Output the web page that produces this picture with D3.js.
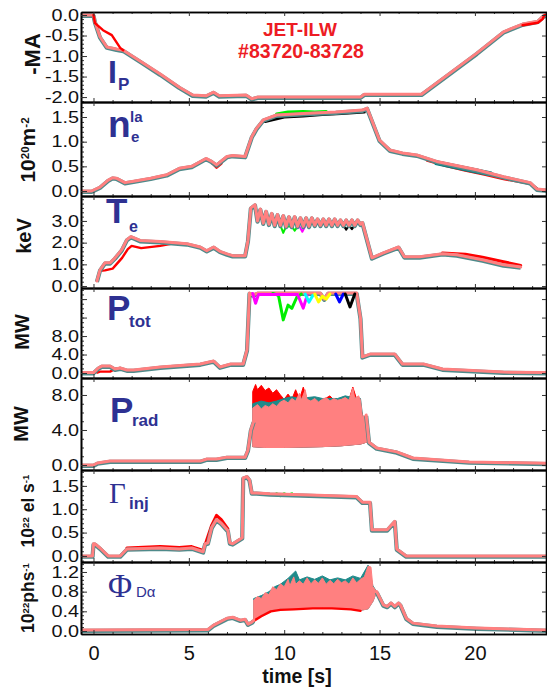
<!DOCTYPE html>
<html>
<head>
<meta charset="utf-8">
<script src="https://cdn.jsdelivr.net/npm/d3@7"></script>
<style>
body { margin: 0; background: #fff; }
svg { display: block; }
</style>
</head>
<body>
<script>
// ---- data : [time (s), value] ----
const ipMain = [[-0.66,0],[0,0],[0.08,-0.17],[0.34,-0.53],[0.7,-0.78],[1.2,-0.83],[1.56,-0.86],[2.5,-1.14],[3.5,-1.44],[4.5,-1.76],[5.2,-1.95],[5.9,-1.97],[6.3,-1.88],[6.6,-1.97],[8.0,-1.95],[8.3,-2.04],[8.6,-2.0],[14.0,-2.0],[14.2,-1.93],[17.2,-1.93],[20.1,-0.93],[21.5,-0.41],[22.5,-0.22],[23.3,-0.15],[23.6,-0.02],[23.8,0]];
const ipRed = [[0,0],[0.08,-0.2],[0.5,-0.37],[0.96,-0.49],[1.4,-0.8],[1.56,-0.86]];
const ipRedEnd = [[22.5,-0.25],[23.3,-0.19],[23.55,-0.1],[23.65,0],[23.8,0]];

const neMain = [[-0.66,0],[-0.1,0],[0.34,0.08],[0.77,0.22],[1.0,0.27],[1.2,0.26],[1.65,0.17],[2.1,0.2],[3.0,0.26],[3.84,0.33],[4.5,0.46],[5.15,0.5],[5.9,0.66],[6.2,0.6],[6.45,0.53],[7.0,0.7],[7.3,0.72],[7.95,0.7],[8.3,1.1],[8.55,1.27],[8.9,1.44],[9.6,1.54],[11.0,1.57],[12.7,1.6],[14.1,1.64],[14.35,1.68],[15.0,1.03],[15.55,0.83],[16.2,0.77],[16.95,0.73],[18.0,0.6],[20.1,0.43],[21.5,0.29],[22.9,0.17],[23.25,0.04],[23.8,0.02]];
const neRed = [[6.2,0.58],[6.45,0.48],[6.7,0.56]];
const neGreen = [[9.6,1.56],[10.2,1.6],[11.0,1.61],[11.6,1.6],[12.2,1.61]];
const neBlack = [[9.0,1.41],[10,1.5],[11,1.52],[12,1.55],[13,1.57],[14.2,1.6]];
const neTealTail = [[18.0,0.57],[19.0,0.49],[20.0,0.41],[20.8,0.35]];
const neRedTail = [[17.5,0.62],[18.5,0.51],[19.5,0.42],[20.5,0.34],[21.5,0.25],[22.9,0.15],[23.3,0.03]];

const teMain = [[0.18,0.23],[0.34,0.74],[0.6,1.07],[0.87,1.07],[1.13,1.3],[1.48,1.67],[1.75,2.14],[1.97,2.28],[2.44,2.1],[3.5,2.05],[4.9,1.95],[5.6,1.8],[5.94,1.63],[6.3,1.8],[6.63,1.6],[7.0,1.48],[7.3,1.4],[7.95,1.4],[8.1,2.1],[8.25,3.6],[8.47,3.75],[8.6,3.0],[8.75,3.55],[8.9,2.9],[9.05,3.45],[9.2,2.85],[9.35,3.35],[9.5,2.8],[9.65,3.3],[9.8,2.8],[9.95,3.25],[10.1,2.75],[10.25,3.2],[10.4,2.75],[10.55,3.2],[10.7,2.75],[10.85,3.15],[11.0,2.75],[11.15,3.15],[11.3,2.75],[11.45,3.15],[11.6,2.8],[11.75,3.1],[11.9,2.8],[12.05,3.1],[12.2,2.8],[12.35,3.1],[12.5,2.8],[12.65,3.1],[12.8,2.8],[12.95,3.05],[13.1,2.8],[13.25,3.05],[13.4,2.8],[13.55,3.05],[13.7,2.8],[13.85,3.05],[14.0,2.85],[14.1,2.93],[14.6,1.3],[15.2,1.53],[16.0,1.8],[16.3,1.35],[17.1,1.35],[18.3,1.49],[19.05,1.44],[20.4,1.21],[21.5,0.98],[22.4,0.88]];
const teRed = [[0.34,0.7],[0.6,0.72],[1.0,0.8],[1.2,1.0],[1.5,1.3],[1.8,1.7],[2.0,1.85],[2.5,1.75],[3.5,1.85],[4.2,1.97]];
const teRedEnd = [[18.3,1.52],[19.5,1.47],[20.4,1.33],[21.5,1.12],[22.4,0.95]];
const teGreen = [[9.8,2.8],[9.95,2.45],[10.1,2.75],[10.4,2.75],[10.55,2.55],[10.7,2.75]];
const teMagenta = [[10.8,2.75],[10.95,2.5],[11.1,2.75]];
const teBlack = [[13.1,2.8],[13.25,2.6],[13.4,2.8],[13.55,2.62],[13.7,2.8]];

const ptMain = [[-0.66,0.1],[0,0.1],[0.25,1.08],[0.43,1.5],[0.87,1.5],[1.13,0.86],[1.4,1.08],[1.75,0.65],[2.1,0.65],[3.5,1.3],[5.6,1.95],[6.3,2.6],[6.63,1.3],[7.2,1.95],[7.85,1.95],[8.05,5.0],[8.18,17.3],[8.37,16.9],[8.6,17.3],[11.9,17.3],[12.1,16.0],[12.3,17.3],[13.8,17.3],[14.0,11.9],[14.1,3.5],[14.5,4.1],[15.8,4.1],[16.2,1.95],[17.3,1.95],[18.3,0.86],[21.5,0.2],[23.8,0.1]];
const ptRed = [[0.2,0.1],[0.34,0.3],[0.87,0.3],[1.13,0.9],[1.4,1.08]];
const ptGreen = [[9.4,17.2],[9.7,16.8],[9.95,11.5],[10.2,14.7],[10.4,14.0],[10.66,16.4],[10.9,17.1]];
const ptMagenta = [[8.35,17.2],[8.5,15.1],[8.65,17.0],[10.7,17.0],[11.0,14.05],[11.2,16.8]];
const ptCyan = [[11.1,17.1],[11.3,15.35],[11.5,16.8]];
const ptYellow = [[11.6,17.1],[11.8,15.4],[12.0,16.6],[12.2,16.0],[12.4,17.1]];
const ptBlue = [[12.7,17.1],[12.9,15.4],[13.1,17.1]];
const ptBlack = [[13.2,17.1],[13.45,14.3],[13.7,17.1]];

const prMain = [[-0.66,0],[0,0],[0.2,0.23],[0.87,0.45],[5.6,0.45],[5.95,0.68],[6.45,0.68],[7.0,0.9],[7.95,0.9],[8.1,1.7],[8.25,4.0],[8.4,5.0]];
const prTail = [[14.3,5.7],[14.45,2.6],[14.85,1.95],[15.9,1.5],[16.75,0.8],[19.7,0.35],[23.8,0.2]];
const prLow = [[8.35,2.1],[9,2.0],[10,2.0],[11,2.05],[12,2.1],[13,2.2],[14.0,2.4],[14.3,2.6],[14.45,2.6]];
const prHigh = [[8.35,6.5],[8.6,6.9],[8.8,6.4],[9.0,6.8],[9.2,6.6],[9.4,7.0],[9.6,6.7],[9.8,7.2],[10.0,7.4],[10.2,7.1],[10.4,7.6],[10.6,7.3],[10.8,8.2],[10.9,7.4],[11.1,8.6],[11.2,7.5],[11.4,7.3],[11.6,7.6],[11.8,7.2],[12.0,7.5],[12.2,7.7],[12.4,7.3],[12.6,7.6],[12.8,7.4],[13.0,7.5],[13.2,7.7],[13.4,7.4],[13.6,8.8],[13.7,7.6],[13.9,7.9],[14.0,7.4],[14.1,5.5],[14.3,5.7],[14.45,2.6]];
const prTeal = [[8.35,7.0],[8.8,7.3],[9.2,7.1],[9.6,7.3],[10.0,7.6],[10.4,7.8],[10.8,7.6],[11.2,7.7],[11.6,7.8],[12.0,7.6],[12.4,7.6],[12.8,7.6],[13.2,7.9],[13.6,7.7],[14.0,7.6],[14.1,5.8]];
const prRed = [[8.35,8.4],[8.5,9.2],[8.6,8.6],[8.8,9.1],[9.0,8.5],[9.2,8.8],[9.4,8.2],[9.6,8.6],[9.8,8.0],[10.0,7.5],[10.2,8.1],[10.4,7.5],[10.6,8.6],[10.8,7.5],[11.0,8.9],[11.2,7.5],[12.0,7.4],[12.4,7.9],[12.6,7.4],[13.4,7.5],[13.6,8.9],[13.8,7.5],[14.1,5.8]];

const gmMain = [[-0.66,0],[-0.05,0],[0.0,0.26],[0.08,0.26],[0.34,0.17],[0.77,0.0],[1.4,0.0],[1.75,0.15],[3.5,0.17],[4.5,0.15],[5.15,0.17],[5.75,0.09],[5.85,0.26],[6.0,0.28],[6.2,0.61],[6.45,0.78],[6.7,0.7],[7.05,0.54],[7.15,0.28],[7.3,0.26],[7.8,0.39],[7.85,1.67],[8.05,1.7],[8.18,1.63],[8.3,1.35],[8.55,1.35],[9.25,1.33],[13.8,1.27],[14.1,1.15],[14.5,1.15],[14.6,0.56],[15.4,0.56],[15.8,0.74],[15.9,0.15],[16.4,0.0],[23.8,0.0]];
const gmRed = [[1.75,0.17],[3.5,0.2],[4.5,0.18],[5.15,0.2],[5.75,0.12],[5.9,0.3],[6.2,0.66],[6.45,0.87],[6.7,0.78],[7.05,0.58]];
const gmGreen = [[9.6,1.33],[9.8,1.29],[10.0,1.33],[10.2,1.3],[10.4,1.33]];

const phMain = [[-0.66,0.02],[6.0,0.03],[6.3,0.12],[7.0,0.26],[7.3,0.28],[7.7,0.22],[7.95,0.24],[8.1,0.14],[8.3,0.18],[8.4,0.22]];
const phTail = [[14.85,0.8],[15.2,0.53],[15.4,0.5],[15.6,0.57],[15.8,0.5],[16.0,0.57],[16.1,0.53],[16.4,0.26],[16.75,0.16],[18.0,0.1],[20.1,0.06],[23.8,0.02]];
const phLow = [[8.4,0.22],[8.8,0.33],[9.3,0.42],[9.8,0.45],[10.5,0.45],[11.5,0.47],[12.0,0.48],[12.5,0.47],[13.5,0.45],[14.0,0.42],[14.4,0.45],[14.65,0.6],[14.85,0.8]];
const phHigh = [[8.4,0.63],[8.6,0.7],[8.8,0.66],[9.0,0.78],[9.2,0.74],[9.4,0.9],[9.6,0.84],[9.8,0.96],[10.0,0.9],[10.2,1.05],[10.3,0.92],[10.5,1.1],[10.6,0.95],[10.8,1.02],[11.0,0.95],[11.2,1.08],[11.4,0.96],[11.6,1.04],[11.8,0.97],[12.0,1.08],[12.2,0.95],[12.4,1.03],[12.6,0.96],[12.8,1.05],[13.0,0.98],[13.2,1.02],[13.4,0.95],[13.6,1.08],[13.8,0.98],[14.0,1.05],[14.2,1.1],[14.4,1.32],[14.55,1.3],[14.65,0.9],[14.85,0.8]];
const phTeal = [[8.4,0.66],[8.8,0.72],[9.2,0.8],[9.5,0.9],[9.8,0.95],[10.2,1.07],[10.6,1.22],[10.8,1.04],[11.2,1.1],[11.6,1.05],[12.0,1.12],[12.4,1.04],[12.8,1.08],[13.2,1.04],[13.6,1.12],[14.0,1.07],[14.4,1.34],[14.65,0.92]];
const phRed = [[8.3,0.18],[8.8,0.3],[9.3,0.4],[9.8,0.43],[10.5,0.44],[11.5,0.46],[12.5,0.46],[13.5,0.44],[14.0,0.41]];

// axis ticks
const xMajor = [0, 5, 10, 15, 20];
const xMinor = [1,2,3,4,6,7,8,9,11,12,13,14,16,17,18,19,21,22,23];
const ipTicks = [0, -0.5, -1, -1.5, -2];
const neTicks = [0, 0.5, 1, 1.5];
const teTicks = [0, 1, 2, 3];
const ptTicks = [0, 4, 8, 12, 16];
const ptLabelled = [0, 4, 8];
const prTicks = [0, 4, 8];
const gmTicks = [0, 0.5, 1, 1.5];
const phTicks = [0, 0.4, 0.8, 1.2];

const SALMON = "#ff8080", EDGE = "#4f8a8a", BLUE = "#2e3192", RED = "#ed1c24";
const sans = "'Liberation Sans', Arial, Helvetica, sans-serif";
const serif = "'Liberation Serif', 'Times New Roman', serif";

const W = 547, H = 688, xL = 81, xR = 547;
const svg = d3.select("body").append("svg").attr("width", W).attr("height", H)
    .style("font-family", sans);

const x = d3.scaleLinear().domain([-0.655, 23.78]).range([xL, xR]);

const line = (y) => d3.line().x(d => x(d[0])).y(d => y(d[1]));

// stretch text a little wider (the original fonts are wide)
function widen(sel, k) {
    sel.each(function () {
        const w = this.getComputedTextLength();
        if (w > 0) d3.select(this).attr("textLength", w * k).attr("lengthAdjust", "spacingAndGlyphs");
    });
}

let clipId = 0;
function makePanel(top, bottom, domain, major, minorStep, fmt, showX) {
    const y = d3.scaleLinear().domain(domain).range([bottom, top]);
    const g = svg.append("g");
    const id = "clip" + (clipId++);
    svg.append("clipPath").attr("id", id).append("rect")
        .attr("x", xL).attr("y", top).attr("width", xR - xL).attr("height", bottom - top);
    const data = g.append("g").attr("clip-path", "url(#" + id + ")");

    // minor y ticks
    const lo = Math.ceil(domain[0] / minorStep), hi = Math.floor(domain[1] / minorStep);
    const minor = d3.range(lo, hi + 1).map(i => +(i * minorStep).toFixed(4));
    const ax = g.append("g").attr("class", "axes");
    ax.append("g").attr("transform", `translate(${xL},0)`)
        .call(d3.axisLeft(y).tickValues(minor).tickSizeInner(-3).tickSizeOuter(0).tickFormat(""));
    const left = ax.append("g").attr("transform", `translate(${xL},0)`)
        .call(d3.axisLeft(y).tickValues(major).tickSizeInner(-6).tickSizeOuter(0).tickPadding(2).tickFormat(fmt));
    left.selectAll("text").attr("font-size", 16.5).attr("fill", "#111").attr("font-family", sans);
    widen(left.selectAll("text"), 1.2);
    ax.append("g").attr("transform", `translate(${xR - 1},0)`)
        .call(d3.axisRight(y).tickValues(major).tickSizeInner(-4).tickSizeOuter(0).tickFormat(""));
    // x ticks top and bottom
    [[top, d3.axisTop], [bottom, d3.axisBottom]].forEach(([yy, fn]) => {
        ax.append("g").attr("transform", `translate(0,${yy})`)
            .call(fn(x).tickValues(xMinor).tickSizeInner(-2).tickSizeOuter(0).tickFormat(""));
        ax.append("g").attr("transform", `translate(0,${yy})`)
            .call(fn(x).tickValues(xMajor).tickSizeInner(-4).tickSizeOuter(0).tickFormat(""));
    });
    if (showX) {
        const bx = ax.append("g").attr("transform", `translate(0,${bottom})`)
            .call(d3.axisBottom(x).tickValues(xMajor).tickSize(0).tickPadding(12));
        bx.select(".domain").remove();
        bx.selectAll("text").attr("font-size", 20).attr("fill", "#111").attr("font-family", sans);
    }
    ax.selectAll(".domain").attr("stroke", "#000").attr("stroke-width", 1.6);
    ax.selectAll(".tick line").attr("stroke", "#333").attr("stroke-width", 1);
    return { y, data, top, bottom };
}

function trace(p, pts, color, width) {
    p.data.append("path").datum(pts).attr("d", line(p.y))
        .attr("fill", "none").attr("stroke", color).attr("stroke-width", width)
        .attr("stroke-linejoin", "round").attr("stroke-linecap", "round");
}
function mainTrace(p, pts) {
    p.data.append("path").datum(pts).attr("d", line(p.y)).attr("transform", "translate(0,0.8)")
        .attr("fill", "none").attr("stroke", EDGE).attr("stroke-width", 4.2).attr("stroke-linejoin", "round");
    trace(p, pts, SALMON, 3);
}
function band(p, upper, lower, color) {
    const pts = upper.concat(lower.slice().reverse());
    p.data.append("path").datum(pts).attr("d", line(p.y) (pts) + "Z")
        .attr("fill", color).attr("stroke", color).attr("stroke-width", 1).attr("stroke-linejoin", "round");
}

const fmt1 = d => d.toFixed(1);

// ---- panel 1 : plasma current ----
const p1 = makePanel(12, 102, [-2.12, 0.073], ipTicks, 0.1, fmt1, false);
mainTrace(p1, ipMain);
trace(p1, ipRed, "#ff0000", 2.4);
trace(p1, ipRedEnd, "#ff0000", 2.4);

// ---- panel 2 : line integrated density ----
const p2 = makePanel(102, 196, [-0.101, 1.804], neTicks, 0.1, fmt1, false);
trace(p2, neGreen, "#00ee00", 3);
trace(p2, neBlack, "#000", 3);
trace(p2, neRedTail, "#ff0000", 3);
trace(p2, neTealTail, "#008080", 5);
trace(p2, neRed, "#ff0000", 3);
mainTrace(p2, neMain);

// ---- panel 3 : electron temperature ----
const p3 = makePanel(196, 288, [-0.09, 4.15], teTicks, 0.2, fmt1, false);
trace(p3, teRed, "#ff0000", 2.4);
trace(p3, teRedEnd, "#ff0000", 3);
trace(p3, teGreen, "#00ee00", 2);
trace(p3, teMagenta, "#ff00ff", 2);
trace(p3, teBlack, "#000", 2);
mainTrace(p3, teMain);

// ---- panel 4 : total heating power ----
const p4 = makePanel(288, 378, [-1.08, 18.4], ptTicks, 1, d => ptLabelled.includes(d) ? d.toFixed(1) : "", false);
trace(p4, ptRed, "#ff0000", 2.4);
mainTrace(p4, ptMain);
trace(p4, ptGreen, "#00ee00", 3);
trace(p4, ptMagenta, "#ff00ff", 3);
trace(p4, ptCyan, "#00ffff", 3);
trace(p4, ptYellow, "#ffff00", 3);
trace(p4, ptBlue, "#0000ff", 3);
trace(p4, ptBlack, "#000", 3);

// ---- panel 5 : radiated power ----
const p5 = makePanel(378, 470, [-0.57, 9.94], prTicks, 1, fmt1, false);
band(p5, prRed, prLow, "#ff0000");
band(p5, prTeal, prLow, "#1f8a8a");
band(p5, prHigh, prLow, SALMON);
mainTrace(p5, prMain);
mainTrace(p5, prTail);

// ---- panel 6 : gas injection ----
const p6 = makePanel(470, 562, [-0.13, 1.84], gmTicks, 0.1, fmt1, false);
trace(p6, gmRed, "#ff0000", 3);
trace(p6, gmGreen, "#00ee00", 3);
mainTrace(p6, gmMain);

// ---- panel 7 : D-alpha photon flux ----
const p7 = makePanel(562, 634, [-0.061, 1.403], phTicks, 0.08, fmt1, true);
band(p7, phTeal, phLow, "#1f8a8a");
band(p7, phHigh, phLow, SALMON);
trace(p7, phRed, "#ff0000", 2.4);
mainTrace(p7, phMain);
mainTrace(p7, phTail);

// ---- panel names ----
function sym(xx, yy, txt, size, opts) {
    const t = svg.append("text").attr("x", xx).attr("y", yy).text(txt)
        .attr("font-size", size).attr("fill", BLUE)
        .attr("font-family", opts && opts.serif ? serif : sans)
        .attr("font-weight", opts && opts.normal ? "normal" : "bold");
    return t;
}
sym(108, 83, "I", 32); sym(118, 90, "P", 17);
sym(108, 137, "n", 37); sym(130, 122, "la", 15); sym(131, 142, "e", 15);
sym(106, 223, "T", 35); sym(129, 232, "e", 16);
sym(107, 320, "P", 35); sym(129, 327, "tot", 17);
sym(110, 422, "P", 35); sym(132, 426, "rad", 17);
sym(109, 503, "\u0393", 29, { serif: true, normal: true }); sym(129, 509, "inj", 17);
sym(108, 597, "\u03A6", 33, { serif: true, normal: true }); sym(136, 597, "D\u03B1", 15, { normal: true });

// ---- shot label ----
svg.append("text").attr("x", 300).attr("y", 36).attr("text-anchor", "middle")
    .attr("font-size", 19).attr("font-weight", "bold").attr("fill", RED).text("JET-ILW");
svg.append("text").attr("x", 301).attr("y", 58).attr("text-anchor", "middle")
    .attr("font-size", 19.5).attr("font-weight", "bold").attr("fill", RED).text("#83720-83728");

// ---- unit titles ----
function unit(xx, yy, parts, size) {
    const t = svg.append("text").attr("transform", `translate(${xx},${yy}) rotate(-90)`)
        .attr("text-anchor", "middle").attr("font-size", size).attr("font-weight", "bold").attr("fill", "#111");
    parts.forEach(([s, sup]) => {
        const ts = t.append("tspan").text(s);
        if (sup) ts.attr("font-size", size * 0.55).attr("baseline-shift", "super");
    });
}
unit(40, 54, [["-MA"]], 22);
unit(35, 150, [["10"], ["20", 1], ["m"], ["-2", 1]], 21);
unit(31, 236, [["keV"]], 20);
unit(29, 332, [["MW"]], 20);
unit(28, 424, [["MW"]], 20);
unit(34, 511, [["10"], ["22", 1], [" el s"], ["-1", 1]], 17.5);
unit(34, 598, [["10"], ["22", 1], ["phs"], ["-1", 1]], 17.5);

svg.append("text").attr("x", 297).attr("y", 683).attr("text-anchor", "middle")
    .attr("font-size", 19.5).attr("font-weight", "bold").attr("fill", "#111").text("time [s]");
</script>
</body>
</html>
